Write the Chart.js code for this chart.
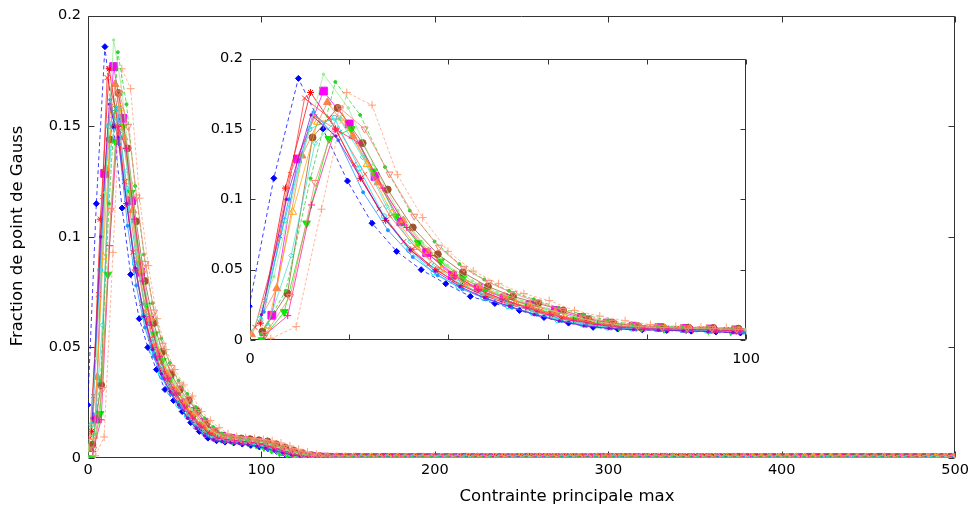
<!DOCTYPE html>
<html><head><meta charset="utf-8">
<script src="https://cdn.jsdelivr.net/npm/chart.js@4"></script>
<style>body{margin:0;background:#fff}#wrap{position:relative;width:973px;height:508px}canvas{position:absolute}</style>
</head><body>
<div id="wrap">
<canvas id="main" width="973" height="508" style="left:0;top:0"></canvas>
<canvas id="inset" width="571" height="329" style="left:200px;top:43px"></canvas>
</div>
<script>
// ---- data ----
const xTitle = 'Contrainte principale max';
const yTitle = 'Fraction de point de Gauss';
const mainXTicks = [0, 100, 200, 300, 400, 500];
const yTickValues = [0, 0.05, 0.1, 0.15, 0.2];
const insetXLabels = [0, 100];

// first bin position and bin width of each series
const seriesStart = [-0.15, 4.4, 2.4, 2.5, 0.3, 3.6, 4.2, 2.1, 1.0, 3.0, 2.0, 3.5, 2.8, 2.3, -0.2, 2.2, 2.8, 3.1];
const seriesStep  = [4.95, 5.2, 4.5, 5.05, 5.1, 5.0, 5.1, 5.05, 5.0, 5.05, 5.0, 4.8, 5.0, 5.0, 5.0, 5.0, 4.8, 5.0];

const s01 = [0.024,0.115,0.186,0.150,0.113,0.083,0.063,0.050,0.040,0.031,0.026,0.021,0.016,0.012,0.009,0.0078,0.0072,0.0068,0.0063,0.0057,0.005,0.0042,0.003,0.0018,0.001,0.0006,0.0004,0.0003];
const s02 = [0.0176,0.1287,0.177,0.1536,0.1163,0.084,0.0622,0.046,0.037,0.030,0.025,0.021,0.016,0.012,0.0098,0.0088,0.0082,0.0078,0.0072,0.006,0.0045,0.003,0.0018,0.001,0.0006,0.0004];
const s03 = [0.000,0.020,0.083,0.143,0.150,0.120,0.088,0.069,0.056,0.044,0.0356,0.0297,0.024,0.019,0.0147,0.0115,0.0095,0.0085,0.008,0.0075,0.007,0.0062,0.005,0.0038,0.0026,0.0016,0.001,0.0006,0.0004,0.0003];
const s04 = [0.006,0.033,0.144,0.165,0.140,0.107,0.080,0.061,0.048,0.038,0.031,0.026,0.021,0.015,0.012,0.0098,0.009,0.0088,0.0085,0.008,0.0075,0.0062,0.0048,0.0034,0.0022,0.0013,0.0008,0.0005,0.0003];
const s05 = [0.004,0.0366,0.131,0.169,0.145,0.112,0.085,0.063,0.047,0.038,0.031,0.025,0.020,0.015,0.012,0.0098,0.0088,0.0082,0.0078,0.0072,0.0065,0.0055,0.0042,0.003,0.0019,0.0011,0.0006,0.0004,0.0003];
const s06 = [0.010,0.091,0.155,0.158,0.125,0.090,0.066,0.050,0.040,0.032,0.026,0.021,0.016,0.012,0.0098,0.0088,0.0082,0.0078,0.0073,0.0066,0.0056,0.0043,0.003,0.0019,0.0011,0.0006,0.0004,0.0003];
const s07 = [0.001,0.0095,0.093,0.176,0.167,0.1175,0.087,0.063,0.049,0.040,0.033,0.028,0.021,0.017,0.0137,0.011,0.0097,0.0092,0.0088,0.0084,0.0078,0.0068,0.0055,0.004,0.0027,0.0016,0.0009,0.0005,0.0003];
const s08 = [0.012,0.108,0.176,0.150,0.115,0.085,0.064,0.050,0.039,0.031,0.025,0.020,0.015,0.0115,0.0095,0.0087,0.0082,0.0078,0.0072,0.0065,0.0055,0.0042,0.003,0.0019,0.0011,0.0006,0.0004,0.0003];
const s09 = [0.009,0.074,0.172,0.158,0.125,0.093,0.070,0.054,0.042,0.034,0.028,0.023,0.018,0.014,0.011,0.0095,0.0088,0.0084,0.008,0.0075,0.0068,0.0057,0.0044,0.0031,0.002,0.0012,0.0007,0.0004,0.0003];
const s10 = [0.028,0.118,0.159,0.148,0.118,0.088,0.066,0.051,0.040,0.032,0.026,0.021,0.016,0.0125,0.010,0.009,0.0084,0.008,0.0075,0.0068,0.0058,0.0045,0.0032,0.002,0.0012,0.0007,0.0004,0.0003];
const s11 = [0.015,0.085,0.150,0.158,0.122,0.088,0.064,0.048,0.038,0.030,0.024,0.019,0.014,0.011,0.0088,0.008,0.0076,0.0072,0.0067,0.006,0.005,0.0038,0.0027,0.0017,0.001,0.0006,0.0004,0.0003];
const s12 = [0.010,0.060,0.140,0.158,0.130,0.095,0.070,0.053,0.041,0.033,0.027,0.021,0.016,0.0125,0.0098,0.0088,0.0082,0.0077,0.0071,0.0064,0.0054,0.0041,0.0029,0.0018,0.001,0.0006,0.0004,0.0003];
const s13 = [0.020,0.100,0.162,0.142,0.105,0.078,0.059,0.046,0.036,0.029,0.023,0.018,0.0135,0.010,0.0082,0.0075,0.007,0.0066,0.0061,0.0055,0.0046,0.0035,0.0025,0.0015,0.0009,0.0005,0.0003];
const s14 = [0.018,0.100,0.160,0.145,0.115,0.086,0.064,0.049,0.038,0.030,0.024,0.018,0.0135,0.010,0.0082,0.0074,0.007,0.0066,0.006,0.0053,0.0044,0.0033,0.0023,0.0014,0.0008,0.0005,0.0003];
const s15 = [0.000,0.045,0.120,0.189,0.165,0.125,0.092,0.069,0.053,0.042,0.034,0.028,0.022,0.017,0.013,0.0105,0.0092,0.0087,0.0083,0.0079,0.0072,0.006,0.0047,0.0034,0.0022,0.0013,0.0008,0.0005,0.0003];
const s16 = [0.004,0.035,0.115,0.1835,0.160,0.123,0.092,0.070,0.054,0.043,0.035,0.029,0.023,0.018,0.014,0.011,0.0095,0.009,0.0085,0.008,0.0073,0.006,0.0046,0.0033,0.0021,0.0012,0.0007,0.0004,0.0003];
const s17 = [0.003,0.0173,0.096,0.150,0.140,0.108,0.080,0.060,0.046,0.036,0.029,0.023,0.018,0.014,0.011,0.009,0.0083,0.0078,0.0074,0.007,0.0064,0.0054,0.0042,0.003,0.0019,0.0011,0.0006,0.0004,0.0003];
const s18 = [0.004,0.031,0.112,0.165,0.150,0.118,0.088,0.066,0.051,0.041,0.033,0.027,0.021,0.016,0.0125,0.010,0.009,0.0086,0.0082,0.0078,0.0071,0.006,0.0047,0.0034,0.0022,0.0013,0.0008,0.0005,0.0003];

// near-zero plateau shared by all series beyond ~140
const tailValues = [0.0003,0.0003,0.0002,0.0003,0.0002,0.0002,0.0003,0.0002,0.0002,0.0002,
0.0003,0.0002,0.0002,0.0002,0.0002,0.0003,0.0002,0.0002,0.0002,0.0002,
0.0002,0.0002,0.0003,0.0002,0.0002,0.0002,0.0002,0.0002,0.0002,0.0002,
0.0003,0.0002,0.0002,0.0002,0.0002,0.0002,0.0002,0.0003,0.0002,0.0002,
0.0002,0.0002,0.0002,0.0002,0.0002,0.0003,0.0002,0.0002,0.0002,0.0002,
0.0002,0.0002,0.0002,0.0003,0.0002,0.0002,0.0002,0.0002,0.0002,0.0002,
0.0002,0.0003,0.0002,0.0002,0.0002,0.0002,0.0002,0.0002,0.0002,0.0003,
0.0002,0.0002,0.0002,0.0002,0.0002,0.0002,0.0002,0.0002,0.0003,0.0002,
0.0002,0.0002,0.0002,0.0002,0.0002,0.0002];

const seriesHeads = [s01,s02,s03,s04,s05,s06,s07,s08,s09,s10,s11,s12,s13,s14,s15,s16,s17,s18];

// ---- styles ----
const styles = [
 {c:'#0000ff', p:'rectRot', r:3, f:true, d:[4,3]},
 {c:'#ff00ff', p:'rect', r:5.5, f:true},
 {c:'#00ee00', p:'triangle', r:4.5, rot:180, f:true},
 {c:'#a0522d', p:'circle', r:3.5, f:true},
 {c:'#ff7f50', p:'triangle', r:4.5, f:true},
 {c:'#ffa500', p:'triangle', r:4.5, f:false},
 {c:'#ffa07a', p:'cross', r:4, d:[3,2]},
 {c:'#ff0000', p:'star', r:3.5},
 {c:'#ff3030', p:'crossRot', r:3.5},
 {c:'#ff6347', p:'crossRot', r:3},
 {c:'#00e5ee', p:'circle', r:2.5, f:false},
 {c:'#40e0d0', p:'rectRot', r:2.5, f:false},
 {c:'#1e90ff', p:'circle', r:1.5, f:true},
 {c:'#9400d3', p:'circle', r:1.2, f:true},
 {c:'#90ee90', p:'circle', r:1.2, f:true},
 {c:'#32cd32', p:'circle', r:1.5, f:true, d:[4,2]},
 {c:'#ff1493', p:'cross', r:3.5},
 {c:'#fa8072', p:'triangle', r:4, rot:180, f:false}
];

function withAlpha(hex, a) {
  const n = parseInt(hex.slice(1), 16);
  return 'rgba(' + (n >> 16) + ',' + ((n >> 8) & 255) + ',' + (n & 255) + ',' + a + ')';
}

function buildDatasets() {
  return seriesHeads.map((head, i) => {
    const vals = head.concat(tailValues);
    const pts = [];
    for (let k = 0; k < vals.length; k++) {
      const x = seriesStart[i] + seriesStep[i] * k;
      if (x > 501) break;
      pts.push({x: x, y: vals[k]});
    }
    const s = styles[i];
    return {
      data: pts, showLine: true, borderColor: withAlpha(s.c, 0.75), borderWidth: 1, borderDash: s.d || [],
      pointStyle: s.p, pointRadius: s.r, pointRotation: s.rot || 0,
      pointBorderColor: s.c, pointBorderWidth: 1,
      pointBackgroundColor: s.f ? s.c : 'rgba(0,0,0,0)',
      order: seriesHeads.length - i
    };
  });
}

const FONT = 'DejaVu Sans';
const framePlugin = {
  id: 'frame',
  beforeDatasetsDraw(chart, args, o) {
    const {ctx, chartArea: a, scales: {x, y}} = chart;
    ctx.save();
    ctx.strokeStyle = o.color; ctx.lineWidth = 1;
    ctx.beginPath();
    const l = Math.round(a.left) + 0.5, r = Math.round(a.right) - 0.5, t = Math.round(a.top) + 0.5, b = Math.round(a.bottom) - 0.5;
    ctx.rect(l, t, r - l, b - t);
    const L = o.len;
    x.ticks.forEach(tk => { const p = Math.round(x.getPixelForValue(tk.value)) + 0.5;
      ctx.moveTo(p, b); ctx.lineTo(p, b - L); ctx.moveTo(p, t); ctx.lineTo(p, t + L); });
    y.ticks.forEach(tk => { const p = Math.round(y.getPixelForValue(tk.value)) + 0.5;
      ctx.moveTo(l, p); ctx.lineTo(l + L, p); ctx.moveTo(r, p); ctx.lineTo(r - L, p); });
    ctx.stroke();
    ctx.restore();
  }
};
const titlePlugin = {
  id: 'titles',
  afterDraw(chart) {
    const ctx = chart.ctx;
    ctx.save();
    ctx.fillStyle = '#000';
    ctx.font = '16.5px "' + FONT + '"';
    ctx.textAlign = 'center'; ctx.textBaseline = 'middle';
    ctx.fillText(xTitle, 567, 497);
    ctx.translate(18, 236); ctx.rotate(-Math.PI / 2);
    ctx.fillText(yTitle, 0, 0);
    ctx.restore();
  }
};

const yFmt = v => yTickValues.some(t => Math.abs(t - v) < 1e-9) ? String(+v.toFixed(2)) : '';

function makeChart(id, inset) {
  const cfg = {
    type: 'scatter',
    data: {datasets: buildDatasets()},
    options: {
      responsive: false, animation: false, devicePixelRatio: 1,
      layout: {padding: inset ? {top: 9, right: 20, left: 0, bottom: 0} : {top: 15, right: 17, left: 0, bottom: 0}},
      plugins: {legend: {display: false}, tooltip: {enabled: false},
                frame: {color: '#333', len: inset ? 5 : 6}},
      scales: {
        x: {type: 'linear', min: 0, max: inset ? 100 : 500,
            grid: {display: false, drawTicks: false}, border: {display: false},
            afterBuildTicks: inset ? undefined : (s => { s.ticks = mainXTicks.map(v => ({value: v})); }),
            ticks: {stepSize: inset ? 20 : 100, autoSkip: false, maxRotation: 0, color: '#000',
                    padding: inset ? 11 : 4, font: {family: FONT, size: 14.5},
                    callback: v => inset ? (insetXLabels.includes(v) ? String(v) : '') : String(v)},
            afterFit: s => { s.height = inset ? 32 : 50; }},
        y: {type: 'linear', min: 0, max: 0.2,
            grid: {display: false, drawTicks: false}, border: {display: false},
            afterBuildTicks: s => { s.ticks = yTickValues.map(v => ({value: v})); },
            ticks: {autoSkip: false, color: '#000', padding: 7, font: {family: FONT, size: 14.5}, callback: yFmt},
            afterFit: s => { s.width = inset ? 50 : 88; }}
      }
    },
    plugins: inset ? [framePlugin] : [framePlugin, titlePlugin]
  };
  return new Chart(document.getElementById(id), cfg);
}
makeChart('main', false);
makeChart('inset', true);
</script>
</body></html>
